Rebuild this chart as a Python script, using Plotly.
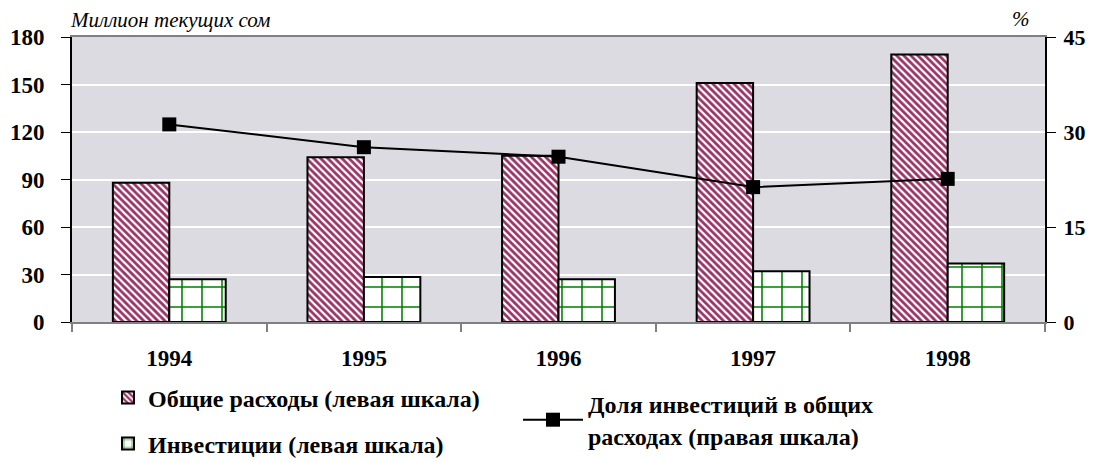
import plotly.graph_objects as go

years = ["1994", "1995", "1996", "1997", "1998"]
total_spending = [88, 104, 105, 151, 169]
investments = [27, 28.5, 27, 32, 37]
invest_share = [31.2, 27.6, 26.1, 21.3, 22.6]

left_ticks = [0, 30, 60, 90, 120, 150, 180]
right_ticks = [0, 15, 30, 45]

FONT = "Liberation Serif"
OFF = 8  # page body margin offset
W, H = 1095 - OFF, 462 - OFF
# plot area in page pixels: left 72, right 1045, top 37, bottom 322
L, T = 72 - OFF, 37 - OFF
R = W - (1045 - OFF)
B = H - (322 - OFF)
pw, ph = W - L - R, H - T - B

def px_x(x):
    return (x - OFF - L) / pw

def px_y(y):
    return (H - B - (y - OFF)) / ph

fig = go.Figure()
fig.add_trace(go.Bar(
    x=years, y=total_spending, name="Общие расходы (левая шкала)",
    marker=dict(color="white", line=dict(color="black", width=2),
                pattern=dict(shape="\\", fgcolor="#993366", bgcolor="white",
                             size=5, solidity=0.55, fillmode="replace")),
    legend="legend", yaxis="y",
))
fig.add_trace(go.Bar(
    x=years, y=investments, name="Инвестиции (левая шкала)",
    marker=dict(color="white", line=dict(color="black", width=2),
                pattern=dict(shape="+", fgcolor="#008000", bgcolor="white",
                             size=20, solidity=0.15, fillmode="replace")),
    legend="legend2", yaxis="y",
))
fig.add_trace(go.Scatter(
    x=years, y=invest_share, name="Доля инвестиций в общих<br>расходах (правая шкала)",
    mode="lines+markers", line=dict(color="black", width=2),
    marker=dict(symbol="square", size=14, color="black"),
    legend="legend3", yaxis="y2",
))

tickfont = dict(family=FONT, size=23, color="black", weight="bold")
rtickfont = dict(family=FONT, size=22, color="black", weight="bold")
legfont = dict(family=FONT, size=24, color="black", weight="bold")

fig.update_layout(
    width=W, height=H,
    margin=dict(l=L, r=R, t=T, b=B, autoexpand=False),
    paper_bgcolor="white", plot_bgcolor="#DBDBE1",
    barmode="group", bargap=0.42, bargroupgap=0,
    showlegend=True,
    xaxis=dict(
        type="category", showgrid=False, showline=True, linecolor="#808080",
        linewidth=2, mirror=True, ticks="outside", tickson="boundaries",
        ticklen=8, tickcolor="#808080", tickwidth=2, tickfont=tickfont,
        ticklabelstandoff=14, automargin=False,
    ),
    yaxis=dict(
        range=[0, 180], tickvals=left_ticks, showgrid=True, gridcolor="white",
        gridwidth=2, showline=True, linecolor="black", linewidth=2,
        ticks="outside", ticklen=9, tickcolor="black", tickfont=tickfont,
        zeroline=False, ticklabelstandoff=12, automargin=False,
    ),
    yaxis2=dict(
        range=[0, 45], tickvals=right_ticks, overlaying="y", side="right",
        showgrid=False, showline=True, linecolor="black", linewidth=2,
        ticks="outside", ticklen=9, tickcolor="black", tickfont=rtickfont,
        zeroline=False, ticklabelstandoff=3, automargin=False,
    ),
    legend=dict(x=px_x(108), y=px_y(398), xanchor="left", yanchor="middle",
                font=legfont, bgcolor="rgba(0,0,0,0)"),
    legend2=dict(x=px_x(108), y=px_y(444), xanchor="left", yanchor="middle",
                 font=legfont, bgcolor="rgba(0,0,0,0)"),
    legend3=dict(x=px_x(518), y=px_y(420), xanchor="left", yanchor="middle",
                 font=legfont, bgcolor="rgba(0,0,0,0)", itemwidth=60),
    annotations=[
        dict(text="Миллион текущих сом", xref="paper", yref="paper",
             x=px_x(68), y=px_y(20), xanchor="left", yanchor="middle",
             showarrow=False,
             font=dict(family=FONT, size=21, color="black", style="italic")),
        dict(text="%", xref="paper", yref="paper",
             x=px_x(1021), y=px_y(19), xanchor="center", yanchor="middle",
             showarrow=False,
             font=dict(family=FONT, size=21, color="black", style="italic")),
    ],
)

fig.write_html("out.html")
